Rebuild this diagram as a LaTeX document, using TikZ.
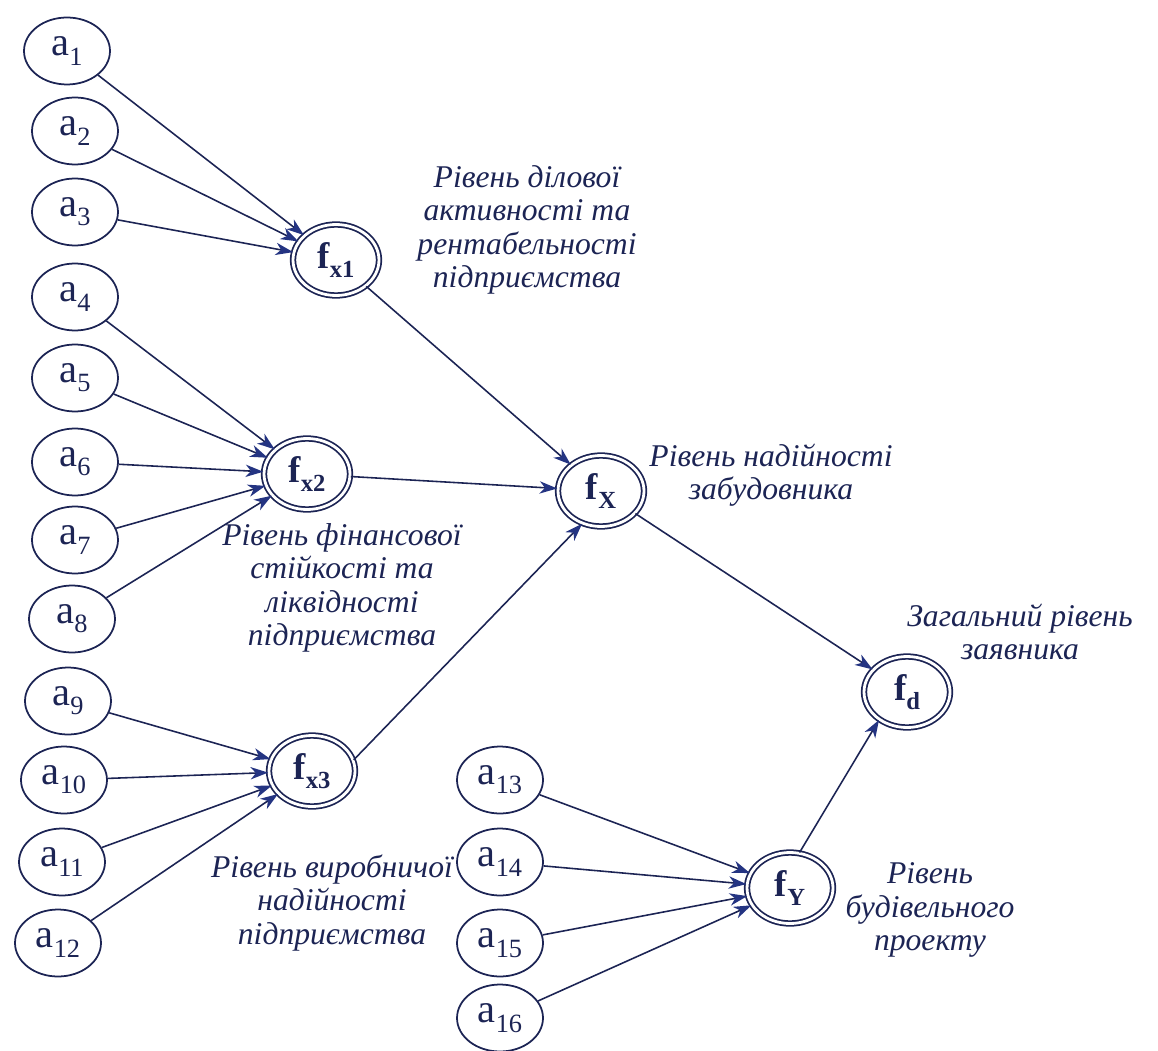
\documentclass[tikz,border=0pt]{standalone}
\usepackage{fontspec}
\setmainfont{Liberation Serif}
\usetikzlibrary{shapes.geometric,arrows.meta}
\definecolor{ink}{RGB}{28,36,84}
\definecolor{tipblue}{RGB}{36,52,130}
\newcommand\avar[1]{a\raisebox{-0.5ex}{\fontsize{15}{15}\selectfont #1}}
\newcommand\fvar[1]{\textbf{f\raisebox{-0.55ex}{\fontsize{14}{14}\selectfont #1}}}
\begin{document}
\begin{tikzpicture}[x=0.02cm,y=-0.02cm,
    var/.style={ellipse,draw=ink,line width=1pt,minimum width=1.72cm,minimum height=1.34cm,
      inner sep=0pt,text=ink,font=\fontsize{23}{23}\selectfont},
    fnode/.style={ellipse,draw=ink,double=white,double distance=1.6pt,line width=1pt,
      minimum width=1.72cm,minimum height=1.42cm,inner sep=0pt,text=ink,font=\fontsize{21}{21}\selectfont},
    note/.style={align=center,text=ink,font=\fontsize{18}{19}\selectfont\itshape},
    link/.style={draw=ink,line width=0.9pt,-{Stealth[length=10pt,width=7pt,inset=3pt,color=tipblue]}}]
  \useasboundingbox (0,0) rectangle (1158,1050);
  % indicators
  \node[var] (a1) at (67,51) {\avar{1}};
  \node[var] (a2) at (75,131) {\avar{2}};
  \node[var] (a3) at (75,212) {\avar{3}};
  \node[var] (a4) at (75,297) {\avar{4}};
  \node[var] (a5) at (75,378) {\avar{5}};
  \node[var] (a6) at (75,462) {\avar{6}};
  \node[var] (a7) at (75,540) {\avar{7}};
  \node[var] (a8) at (72,619) {\avar{8}};
  \node[var] (a9) at (68,701) {\avar{9}};
  \node[var] (a10) at (64,780) {\avar{10}};
  \node[var] (a11) at (62,862) {\avar{11}};
  \node[var] (a12) at (58,943) {\avar{12}};
  \node[var] (a13) at (500,780) {\avar{13}};
  \node[var] (a14) at (500,862) {\avar{14}};
  \node[var] (a15) at (500,943) {\avar{15}};
  \node[var] (a16) at (500,1018) {\avar{16}};
  % levels
  \node[fnode] (fx1) at (336,260) {\fvar{x1}};
  \node[fnode] (fx2) at (307,474) {\fvar{x2}};
  \node[fnode] (fx3) at (312,771) {\fvar{x3}};
  \node[fnode] (fX) at (601,491) {\fvar{X}};
  \node[fnode] (fd) at (907,692) {\fvar{d}};
  \node[fnode] (fY) at (790,888) {\fvar{Y}};
  % captions
  \node[note] (cx1) at (527,230) {Рівень ділової\\активності та\\рентабельності\\підприємства};
  \node[note] (cx2) at (342,588) {Рівень фінансової\\стійкості та\\ліквідності\\підприємства};
  \node[note] (cx3) at (332,903) {Рівень виробничої\\надійності\\підприємства};
  \node[note] (cX) at (771,475) {Рівень надійності\\забудовника};
  \node[note] (cd) at (1020,632) {Загальний рівень\\заявника};
  \node[note] (cY) at (930,910) {Рівень\\будівельного\\проекту};
  % connectors
  \foreach \i in {1,2,3} \draw[link] (a\i) -- (fx1);
  \foreach \i in {4,...,8} \draw[link] (a\i) -- (fx2);
  \foreach \i in {9,...,12} \draw[link] (a\i) -- (fx3);
  \foreach \i in {13,...,16} \draw[link] (a\i) -- (fY);
  \draw[link] (fx1) -- (fX);
  \draw[link] (fx2) -- (fX);
  \draw[link] (fx3.15) -- (fX.-120);
  \draw[link] (fX) -- (fd);
  \draw[link] (fY.75) -- (fd.-135);
\end{tikzpicture}
\end{document}
